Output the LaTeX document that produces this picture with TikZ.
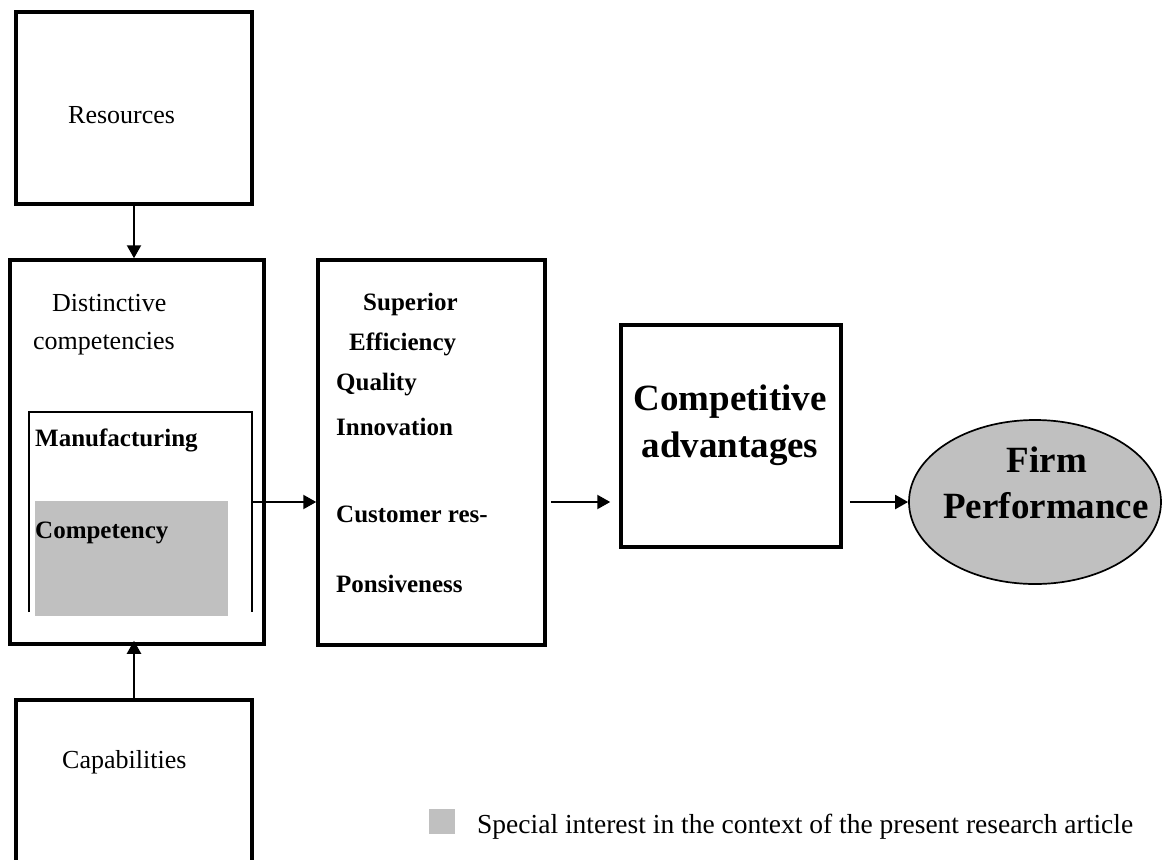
\documentclass[tikz,border=0pt]{standalone}
\usepackage{fontspec}
\setmainfont{Liberation Serif}
\usetikzlibrary{arrows.meta,shapes.geometric}
\definecolor{shade}{RGB}{192,192,192}
\tikzset{
  box/.style={draw=black,line width=3.5pt,rectangle,inner sep=0pt},
  arr/.style={line width=2.2pt,-{Triangle[length=13pt,width=14pt]}},
  lbl/.style={anchor=base west,inner sep=0pt,font=\fontsize{26}{30}\selectfont},
  blbl/.style={anchor=base west,inner sep=0pt,font=\fontsize{25}{30}\selectfont\bfseries},
  big/.style={inner sep=0pt,font=\fontsize{37}{44}\selectfont\bfseries,align=center},
}
\begin{document}
\begin{tikzpicture}[x=1pt,y=-1pt]
\useasboundingbox (0,0) rectangle (1163,860);
% boxes
\node[box,minimum width=236pt,minimum height=192pt] (res) at (134,108) {};
\node[box,minimum width=254pt,minimum height=384pt] (dist) at (137,452) {};
\node[fill=shade,minimum width=193pt,minimum height=115pt,inner sep=0pt] (gray) at (131.5,558.5) {};
\node[box,minimum width=227pt,minimum height=385pt] (mid) at (431.5,452.5) {};
\node[box,minimum width=220pt,minimum height=222pt] (comp) at (731,436) {};
\node[ellipse,draw=black,line width=1.7pt,fill=shade,minimum width=252pt,minimum height=164pt,inner sep=0pt] (fp) at (1035,502) {};
\node[box,minimum width=236pt,minimum height=190pt] (cap) at (134,795) {};
% inner open box
\coordinate (inA) at (29,612);
\coordinate (inB) at (29,412);
\coordinate (inC) at (252,412);
\coordinate (inD) at (252,612);
\coordinate (inR) at (252,502);
\draw[line width=2.8pt] (inA) -- (inB) -- (inC) -- (inD);
% texts
\node[lbl] (tres) at (68,123) {Resources};
\node[lbl] (tdist1) at (52,311) {Distinctive};
\node[lbl] (tdist2) at (33,349) {competencies};
\node[blbl] (tman) at (35,446) {Manufacturing};
\node[blbl] (tcomp) at (35,538) {Competency};
\node[blbl] (t1) at (363,310) {Superior};
\node[blbl] (t2) at (349,350) {Efficiency};
\node[blbl] (t3) at (336,390) {Quality};
\node[blbl] (t4) at (336,435) {Innovation};
\node[blbl] (t5) at (336,522) {Customer res-};
\node[blbl] (t6) at (336,592) {Ponsiveness};
\node[big,anchor=base] (tca1) at (730,410) {Competitive};
\node[big,anchor=base] (tca2) at (730,457) {advantages};
\node[big,anchor=base] (tfp1) at (1047,472) {Firm};
\node[big,anchor=base] (tfp2) at (1046,518) {Performance};
\node[lbl] (tcap) at (62,768) {Capabilities};
% legend
\node[fill=shade,minimum width=26pt,minimum height=25pt,inner sep=0pt] (leg) at (442,821.5) {};
\node[lbl,font=\fontsize{27.5}{32}\selectfont] (tleg) at (477,833) {Special interest in the context of the present research article};
% arrows
\draw[arr] (res.south) -- (res.south |- dist.north);
\draw[arr] (cap.north) -- ([yshift=5pt]cap.north |- dist.south);
\draw[arr] (inR) -- (mid.west |- inR);
\draw[arr,shorten <=4pt,shorten >=9pt] (mid.east |- fp.west) -- (comp.west |- fp.west);
\draw[arr,shorten <=7pt] (comp.east |- fp.west) -- (fp.west);
\end{tikzpicture}
\end{document}
